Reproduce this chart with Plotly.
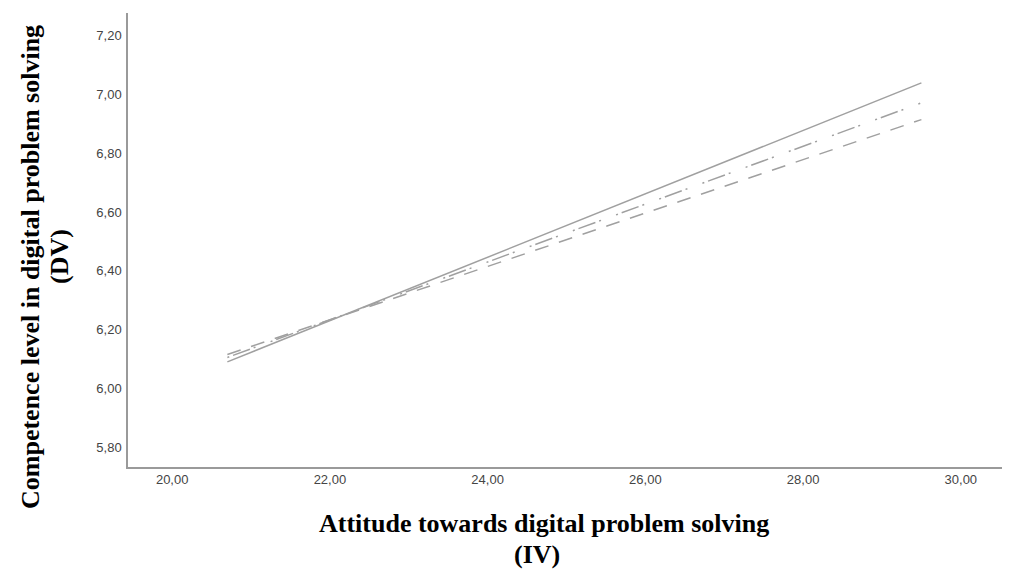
import plotly.graph_objects as go

# ---- data ----
x_points = [20.7, 29.5]
series_names = ["Low", "Medium", "High"]
series_values = {
    "Low": [6.09, 7.04],
    "Medium": [6.105, 6.972],
    "High": [6.115, 6.915],
}
x_tick_vals = [20, 22, 24, 26, 28, 30]
x_tick_text = ["20,00", "22,00", "24,00", "26,00", "28,00", "30,00"]
y_tick_vals = [5.8, 6.0, 6.2, 6.4, 6.6, 6.8, 7.0, 7.2]
y_tick_text = ["5,80", "6,00", "6,20", "6,40", "6,60", "6,80", "7,00", "7,20"]
x_title = ["Attitude towards digital problem solving", "(IV)"]
y_title = ["Competence level in digital problem solving", "(DV)"]

# ---- styles ----
dashes = {"Low": "solid", "Medium": "2px,4px,18px,4px,2px,16px", "High": "14px,11px"}
OFF = 8  # page body margin
W, H = 1010 - OFF, 573 - OFF
L, R, T, B = 128 - OFF, 5, 13 - OFF, 106

fig = go.Figure()
for name in series_names:
    fig.add_trace(go.Scatter(
        x=x_points, y=series_values[name], mode="lines", name=name,
        line=dict(color="#a0a0a0", width=1.5, dash=dashes[name]),
        showlegend=False, hoverinfo="skip",
    ))

PW = W - L - R
PH = H - T - B

def px_x(x):
    return (x - OFF - L) / PW

def px_y(y):
    return (T + PH - (y - OFF)) / PH

title_font = dict(family="Liberation Serif, Times New Roman, serif", size=26, color="black")
annos = [
    dict(text="<b>%s</b>" % x_title[0], x=px_x(544), y=px_y(523)),
    dict(text="<b>%s</b>" % x_title[1], x=px_x(537), y=px_y(554)),
    dict(text="<b>%s</b>" % y_title[0], x=px_x(30), y=px_y(267), textangle=-90),
    dict(text="<b>%s</b>" % y_title[1], x=px_x(60), y=px_y(257), textangle=-90),
]
for a in annos:
    fig.add_annotation(xref="paper", yref="paper", showarrow=False,
                       xanchor="center", yanchor="middle", font=title_font, **a)

tick_font = dict(family="Liberation Sans, Arial, sans-serif", size=13, color="#444")
fig.update_xaxes(
    range=[19.44, 30.56], tickvals=x_tick_vals, ticktext=x_tick_text,
    showgrid=False, zeroline=False, showline=True, linecolor="#9a9a9a", linewidth=1.5,
    ticks="", tickfont=tick_font,
)
fig.update_yaxes(
    range=[5.732, 7.278], tickvals=y_tick_vals, ticktext=y_tick_text,
    showgrid=False, zeroline=False, showline=True, linecolor="#9a9a9a", linewidth=1.5,
    ticks="outside", ticklen=2, tickcolor="rgba(0,0,0,0)", tickfont=tick_font,
)
fig.update_layout(
    width=W, height=H, margin=dict(l=L, r=R, t=T, b=B),
    paper_bgcolor="white", plot_bgcolor="white",
)
fig.write_html("out.html")
